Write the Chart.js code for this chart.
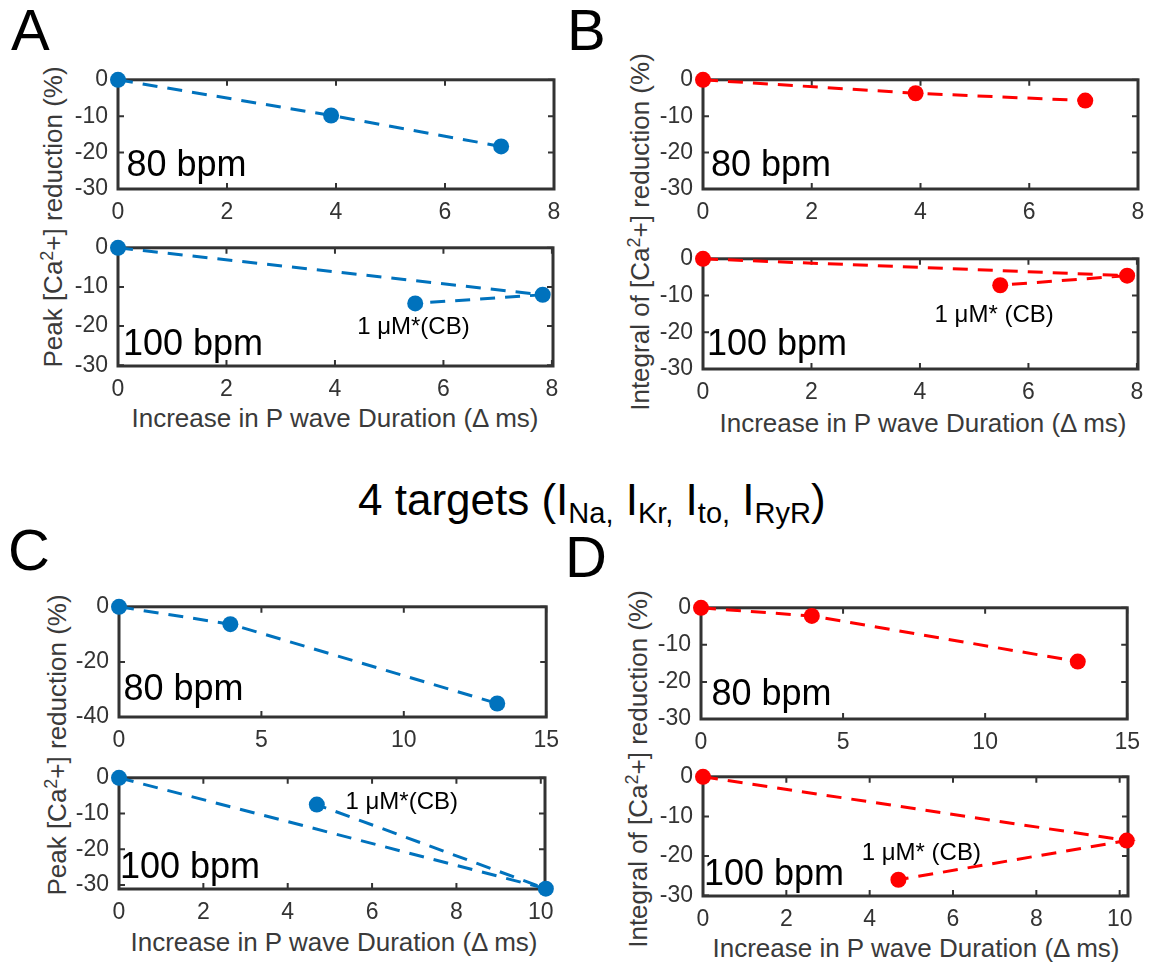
<!DOCTYPE html>
<html>
<head>
<meta charset="utf-8">
<script src="https://cdn.jsdelivr.net/npm/chart.js@4"></script>
<style>
  html, body { margin:0; padding:0; background:#fff; }
  body { width:1153px; height:965px; position:relative; overflow:hidden; font-family:"Liberation Sans", Arial, sans-serif; }
  canvas { position:absolute; }
  .t { position:absolute; white-space:nowrap; line-height:1; }
  .letter { font-size:58px; color:#000; }
  .ytitle { font-size:26px; color:#3a3a3a; transform:translate(-50%,-50%) rotate(-90deg); }
  .xtitle { font-size:26px; color:#3a3a3a; transform:translate(-50%,-50%); }
  .ytitle sup { font-size:18px; vertical-align:9px; line-height:0; }
  .main { font-size:44px; color:#000; }
  .main sub { font-size:29px; vertical-align:-8px; line-height:0; }
</style>
</head>
<body>

<div class="t letter" style="left:11px; top:1px;">A</div>
<div class="t letter" style="left:567px; top:1px;">B</div>
<div class="t letter" style="left:8px; top:521px;">C</div>
<div class="t letter" style="left:565px; top:528px;">D</div>

<div class="t ytitle" style="left:53px; top:217px;">Peak [Ca<sup>2</sup>+] reduction (%)</div>
<div class="t ytitle" style="left:640px; top:232px;">Integral of [Ca<sup>2</sup>+] reduction (%)</div>
<div class="t ytitle" style="left:57px; top:745px;">Peak [Ca<sup>2</sup>+] reduction (%)</div>
<div class="t ytitle" style="left:638px; top:769px;">Integral of [Ca<sup>2</sup>+] reduction (%)</div>

<div class="t xtitle" style="left:335px; top:418px;">Increase in P wave Duration (Δ ms)</div>
<div class="t xtitle" style="left:923px; top:423px;">Increase in P wave Duration (Δ ms)</div>
<div class="t xtitle" style="left:334px; top:942px;">Increase in P wave Duration (Δ ms)</div>
<div class="t xtitle" style="left:916px; top:948px;">Increase in P wave Duration (Δ ms)</div>

<div class="t main" style="left:358px; top:478px;">4 targets (I<sub>Na,</sub> I<sub>Kr,</sub> I<sub>to,</sub> I<sub>RyR</sub>)</div>

<script>
// ---------------- data ----------------
// Panel A : Peak [Ca2+] reduction
const A80_x  = [0, 3.91, 7.03];
const A80_y  = [0, -9.8, -18.3];
const A100_x = [0, 7.83, 5.48];
const A100_y = [0, -12.0, -14.2];
// Panel B : Integral of [Ca2+] reduction
const B80_x  = [0, 3.91, 7.03];
const B80_y  = [0, -3.7, -5.7];
const B100_x = [0, 7.82, 5.48];
const B100_y = [0, -4.6, -7.2];
// Panel C : Peak [Ca2+] reduction (4 targets)
const C80_x  = [0, 3.91, 13.28];
const C80_y  = [0, -6.3, -35.1];
const C100_x = [0, 10.12, 4.69];
const C100_y = [0, -31.0, -7.5];
// Panel D : Integral of [Ca2+] reduction (4 targets)
const D80_x  = [0, 3.90, 13.26];
const D80_y  = [0, -2.2, -14.5];
const D100_x = [0, 10.17, 4.69];
const D100_y = [0, -16.1, -26.0];

// tick labels
const xTicks8   = [0, 2, 4, 6, 8];
const xTicks15  = [0, 5, 10, 15];
const xTicks10  = [0, 2, 4, 6, 8, 10];
const yTicks30  = [0, -10, -20, -30];
const yTicks40  = [0, -20, -40];

// annotation texts
const bpm80 = '80 bpm';
const bpm100 = '100 bpm';
const noteA = '1 μM*(CB)';
const noteB = '1 μM* (CB)';

// ---------------- layout / style ----------------
const BLUE = '#0072BD';
const RED = '#FF0000';
const ML = 60, MT = 14, MR = 22, MB = 42;

const subplots = [
  {rect:[118,70,554,189],  x:A80_x,  y:A80_y,  xr:[0,8],    yr:[-30,0],   xt:xTicks8,  yt:yTicks30, c:BLUE, bpm:bpm80,  bp:[8.5,13.5]},
  {rect:[118,238,553,366], x:A100_x, y:A100_y, xr:[0,8.02], yr:[-30.2,0], xt:xTicks8,  yt:yTicks30, c:BLUE, bpm:bpm100, bp:[5,11],  note:noteA, np:[4.41,-22.1]},
  {rect:[703,70,1138,189], x:B80_x,  y:B80_y,  xr:[0,8],    yr:[-30,0],   xt:xTicks8,  yt:yTicks30, c:RED,  bpm:bpm80,  bp:[8,13]},
  {rect:[703,249,1138,369],x:B100_x, y:B100_y, xr:[0,8.02], yr:[-30,0],   xt:xTicks8,  yt:yTicks30, c:RED,  bpm:bpm100, bp:[4,14],  note:noteB, np:[4.27,-17.2]},
  {rect:[119,597,547,717], x:C80_x,  y:C80_y,  xr:[0,15],   yr:[-40,0],   xt:xTicks15, yt:yTicks40, c:BLUE, bpm:bpm80,  bp:[4.5,17]},
  {rect:[119,768,545,889], x:C100_x, y:C100_y, xr:[0,10.1], yr:[-31.1,0], xt:xTicks10, yt:yTicks30, c:BLUE, bpm:bpm100, bp:[1,11],  note:noteA, np:[5.37,-8.6]},
  {rect:[701,598,1128,719],x:D80_x,  y:D80_y,  xr:[0,15],   yr:[-30,0],   xt:xTicks15, yt:yTicks30, c:RED,  bpm:bpm80,  bp:[10.5,14]},
  {rect:[703,767,1128,896],x:D100_x, y:D100_y, xr:[0,10.2], yr:[-30.1,0], xt:xTicks10, yt:yTicks30, c:RED,  bpm:bpm100, bp:[1,11],  note:noteB, np:[3.81,-20.9]}
];

const framePlugin = {
  id: 'frame',
  beforeDatasetsDraw(chart) {
    const {ctx, chartArea:a, scales:{x, y}} = chart;
    ctx.save();
    ctx.strokeStyle = '#333';
    ctx.lineWidth = 2;
    ctx.beginPath();
    x.ticks.forEach(t => {
      const p = x.getPixelForValue(t.value);
      ctx.moveTo(p, a.bottom); ctx.lineTo(p, a.bottom - 6);
      ctx.moveTo(p, a.top); ctx.lineTo(p, a.top + 6);
    });
    y.ticks.forEach(t => {
      const p = y.getPixelForValue(t.value);
      ctx.moveTo(a.left, p); ctx.lineTo(a.left + 6, p);
      ctx.moveTo(a.right, p); ctx.lineTo(a.right - 6, p);
    });
    ctx.stroke();
    ctx.lineWidth = 3;
    ctx.strokeRect(a.left, a.top, a.right - a.left, a.bottom - a.top);
    ctx.restore();
  },
  afterDatasetsDraw(chart, args, opts) {
    const {ctx, chartArea:a, scales:{x, y}} = chart;
    ctx.save();
    ctx.fillStyle = '#000';
    ctx.textBaseline = 'alphabetic';
    ctx.textAlign = 'left';
    if (opts.bpm) {
      ctx.font = '36px "Liberation Sans", Arial, sans-serif';
      ctx.fillText(opts.bpm, a.left + opts.bp[0], a.bottom - opts.bp[1]);
    }
    if (opts.note) {
      ctx.font = '24px "Liberation Sans", Arial, sans-serif';
      ctx.fillText(opts.note, x.getPixelForValue(opts.np[0]), y.getPixelForValue(opts.np[1]));
    }
    ctx.restore();
  }
};

const tickFont = {family:'"Liberation Sans", Arial, sans-serif', size:23};

subplots.forEach(sp => {
  const [L, T, R, B] = sp.rect;
  const cv = document.createElement('canvas');
  const W = (R - L) + ML + MR, H = (B - T) + MT + MB;
  cv.width = W; cv.height = H;
  cv.style.left = (L - ML) + 'px';
  cv.style.top = (T - MT) + 'px';
  cv.style.width = W + 'px'; cv.style.height = H + 'px';
  document.body.appendChild(cv);
  const pts = sp.x.map((v, i) => ({x: v, y: sp.y[i]}));
  new Chart(cv, {
    type: 'scatter',
    data: { datasets: [{
      data: pts,
      showLine: true,
      borderColor: sp.c,
      backgroundColor: sp.c,
      borderWidth: 3,
      borderDash: [15, 10],
      pointRadius: 8,
      pointBorderWidth: 0,
      pointBackgroundColor: sp.c,
      clip: false,
      tension: 0
    }]},
    options: {
      responsive: false,
      animation: false,
      devicePixelRatio: 1,
      events: [],
      layout: { padding: {top: MT, right: MR, left: 0, bottom: 0} },
      plugins: {
        legend: {display: false},
        tooltip: {enabled: false},
        frame: {bpm: sp.bpm, bp: sp.bp, note: sp.note, np: sp.np}
      },
      scales: {
        x: {
          type: 'linear', min: sp.xr[0], max: sp.xr[1],
          grid: {display: false, drawTicks: false},
          border: {display: false},
          afterBuildTicks: s => { s.ticks = sp.xt.map(v => ({value: v})); },
          afterFit: s => { s.height = MB; },
          ticks: {font: tickFont, color: '#333', padding: 10, maxRotation: 0, autoSkip: false}
        },
        y: {
          type: 'linear', min: sp.yr[0], max: sp.yr[1],
          grid: {display: false, drawTicks: false},
          border: {display: false},
          afterBuildTicks: s => { s.ticks = sp.yt.map(v => ({value: v})); },
          afterFit: s => { s.width = ML; },
          ticks: {font: tickFont, color: '#333', padding: 10, autoSkip: false}
        }
      }
    },
    plugins: [framePlugin]
  });
});
</script>
</body>
</html>
